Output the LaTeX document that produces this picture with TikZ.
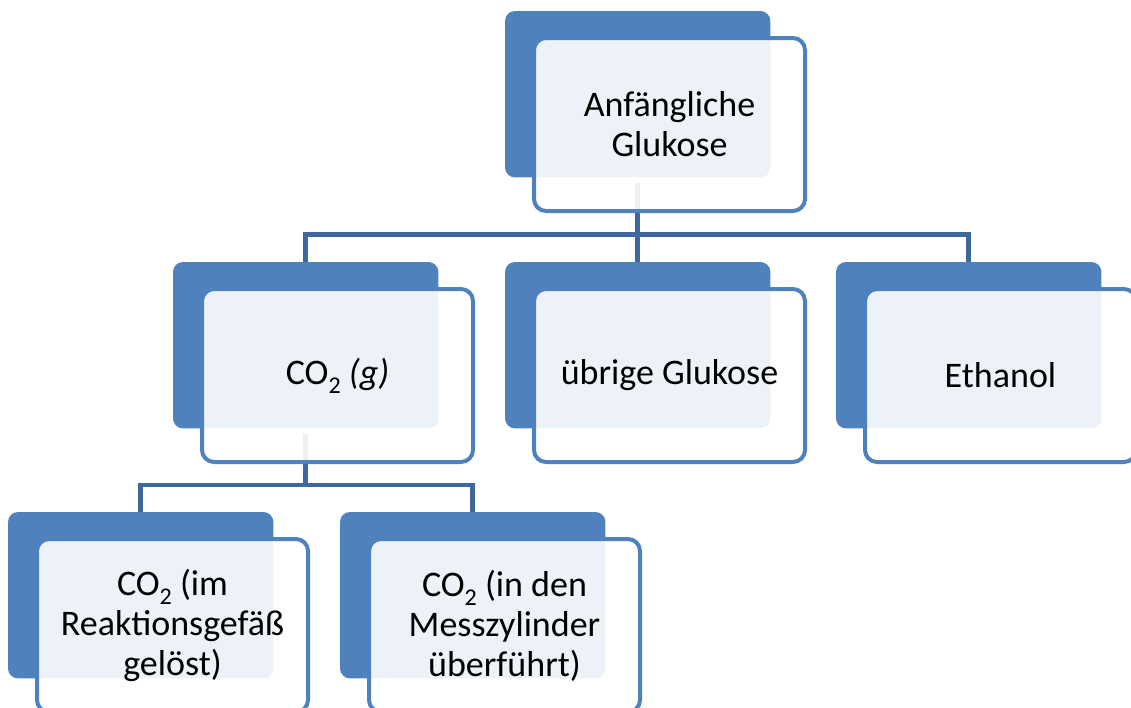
\documentclass[tikz,border=0pt]{standalone}
\usepackage{fontspec}
\setmainfont{Carlito}
\definecolor{accent}{RGB}{79,129,189}
\definecolor{connc}{RGB}{62,104,158}
\tikzset{
  darkbox/.style={anchor=north west, minimum width=265pt, minimum height=166pt,
    inner sep=0pt, rounded corners=10pt, fill=accent, draw=none},
  frontbox/.style={anchor=north west, minimum width=271pt, minimum height=173pt,
    inner sep=0pt, rounded corners=12pt, draw=accent, line width=4pt,
    fill=white, fill opacity=0.9, text opacity=1, align=center,
    font=\fontsize{36}{40}\selectfont},
  conn/.style={draw=connc, line width=4.5pt, line join=miter}
}
\newcommand{\cotwo}{CO\raisebox{-9pt}{\fontsize{24}{24}\selectfont 2}}
\begin{document}
\begin{tikzpicture}[x=1pt,y=-1pt]
\useasboundingbox (0,0) rectangle (1131,707);
% connectors (coordinates for bars)
\coordinate (topbar) at (637.5,234.5);
\coordinate (midbar) at (305.5,485);
% dark boxes (positions only; drawn later)
\path (505,11) node[darkbox, fill=none] (top) {}
      (173,262) node[darkbox, fill=none] (co2) {}
      (505,262) node[darkbox, fill=none] (rest) {}
      (836,262) node[darkbox, fill=none] (eth) {}
      (8,512) node[darkbox, fill=none] (sol) {}
      (340,512) node[darkbox, fill=none] (cyl) {};
\draw[conn] ([yshift=-6pt]top.south) -- (top.south |- topbar) -| (co2.north);
\draw[conn] (top.south |- topbar) -- (rest.north);
\draw[conn] (top.south |- topbar) -| (eth.north);
\draw[conn] ([yshift=-6pt]co2.south) -- (co2.south |- midbar) -| (sol.north);
\draw[conn] (co2.south |- midbar) -| (cyl.north);
% filled dark boxes
\foreach \n in {top,co2,rest,eth,sol,cyl}{
  \fill[accent, rounded corners=10pt] (\n.north west) rectangle (\n.south east);
}
% front boxes
\node[frontbox] (topF) at (532,36) {Anfängliche\\Glukose};
\node[frontbox] (co2F) at (200,287) {\cotwo\ \textit{(g)}};
\node[frontbox] (restF) at (532,287) {übrige Glukose};
\node[frontbox] (ethF) at (863,287) {Ethanol};
\node[frontbox] (solF) at (35,537) {\cotwo\ (im\\Reaktionsgefäß\\gelöst)};
\node[frontbox] (cylF) at (367,537) {\cotwo\ (in den\\Messzylinder\\überführt)};
\end{tikzpicture}
\end{document}
